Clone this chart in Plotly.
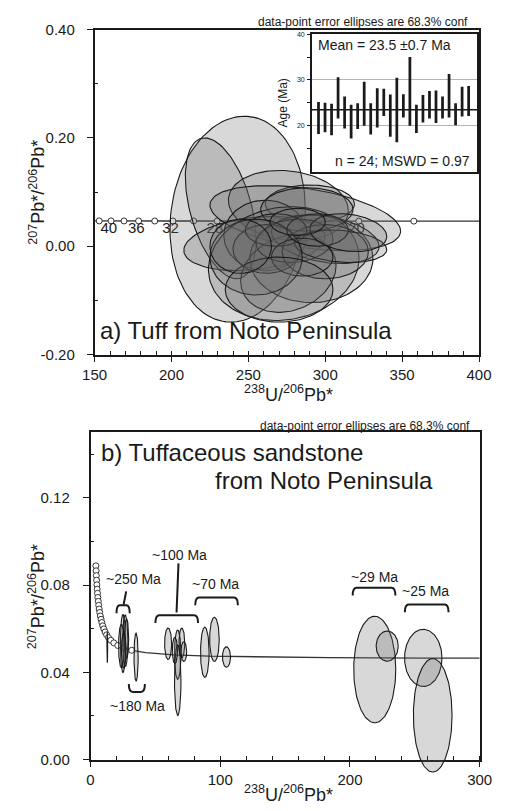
import numpy as np
import plotly.graph_objects as go

W, H = 511, 811
FONT = "Liberation Sans, Arial, sans-serif"
INK = "#1a1a1a"
FILL = "rgba(100,100,100,0.25)"

# ---------------- panel a: Tuff from Noto Peninsula ----------------
conc_a_age = [42, 40, 38, 36, 34, 32, 30, 28, 26, 24, 22, 20, 18]
conc_a_x = [153.0, 160.7, 169.1, 178.6, 189.1, 200.9, 214.4, 229.7, 247.4, 268.1, 292.5, 321.8, 357.6]
conc_a_y = [0.0468, 0.0468, 0.0467, 0.0467, 0.0466, 0.0466, 0.0466, 0.0465, 0.0465, 0.0465, 0.0465, 0.0464, 0.0464]
conc_a_end_x = [150.0, 400.0]
conc_a_end_y = [0.0469, 0.0463]
conc_a_label_ages = [40, 36, 32, 28, 24, 20]

# error ellipses: centre, half-extent in x and y, correlation
ell_a_cx = [243, 232, 276, 290, 287, 254, 261, 273, 291, 276, 300, 288, 262, 280, 300, 268, 310, 285, 255, 295, 270, 245, 315, 282]
ell_a_cy = [0.050, 0.070, 0.075, 0.078, 0.052, 0.005, 0.020, -0.032, -0.023, -0.050, 0.013, 0.068, -0.005, 0.010,
            -0.010, 0.030, 0.000, -0.020, -0.020, 0.030, -0.080, 0.000, 0.025, 0.045]
ell_a_sx = [44, 23, 39, 29, 62, 46, 27, 49, 40, 31, 35, 30, 22, 25, 28, 20, 30, 20, 30, 20, 35, 20, 25, 18]
ell_a_sy = [0.190, 0.130, 0.065, 0.035, 0.060, 0.050, 0.065, 0.105, 0.081, 0.072, 0.045, 0.040, 0.045, 0.040,
            0.050, 0.030, 0.030, 0.035, 0.070, 0.030, 0.060, 0.050, 0.035, 0.025]
ell_a_rho = [0.10, -0.45, -0.15, 0.0, -0.40, 0.25, 0.0, 0.10, 0.0, 0.20, -0.30, 0.0, 0.0, 0.10,
             0.0, 0.0, -0.20, 0.0, 0.0, 0.0, 0.0, 0.0, -0.20, 0.0]

# inset: spot ages (Ma), bar low / high ends
spot_no = list(range(1, 25))
age_lo = [18.2, 18.6, 17.9, 21.6, 19.4, 17.2, 19.3, 20.0, 18.1, 19.6, 22.1, 17.6,
          16.4, 21.8, 20.0, 18.4, 20.7, 21.6, 20.6, 21.6, 21.8, 20.1, 22.0, 22.1]
age_hi = [25.2, 25.0, 24.8, 30.6, 26.4, 24.6, 24.9, 29.6, 24.9, 28.2, 28.1, 26.8,
          30.5, 26.9, 35.0, 24.6, 26.7, 27.6, 27.7, 26.4, 31.3, 24.9, 28.5, 28.7]
mean_age = 23.5

# ---------------- panel b: Tuffaceous sandstone ----------------
conc_b_age = [1400, 1350, 1300, 1250, 1200, 1150, 1100, 1050, 1000, 950, 900, 850, 800,
              750, 700, 650, 600, 550, 500, 450, 400, 350, 300, 250, 200]
conc_b_x = [4.12, 4.29, 4.48, 4.67, 4.89, 5.12, 5.37, 5.65, 5.96, 6.30, 6.67, 7.09, 7.57,
            8.10, 8.72, 9.43, 10.25, 11.23, 12.40, 13.83, 15.62, 17.92, 20.99, 25.29, 31.74]
conc_b_y = [0.0888, 0.0865, 0.0843, 0.0822, 0.0801, 0.0781, 0.0762, 0.0743, 0.0725, 0.0707, 0.0690, 0.0674, 0.0658,
            0.0643, 0.0628, 0.0613, 0.0599, 0.0585, 0.0572, 0.0559, 0.0547, 0.0535, 0.0523, 0.0512, 0.0501]
conc_b_tail_x = [42.5, 64.0, 91.6, 128.4, 183.7, 257.4, 300.0]
conc_b_tail_y = [0.0490, 0.0480, 0.0474, 0.0470, 0.0467, 0.0465, 0.0465]

ell_b_cx = [25.0, 26.8, 23.8, 27.8, 25.6, 35.1, 12.9, 59.8, 67.2, 67.2, 70.4, 71.9, 65.0,
            88.1, 95.5, 104.8, 219.1, 228.7, 256.5, 263.8]
ell_b_cy = [0.0532, 0.0545, 0.0520, 0.0555, 0.0500, 0.0470, 0.0515, 0.0531, 0.0481, 0.0364, 0.0535, 0.0495, 0.0500,
            0.0492, 0.0551, 0.0470, 0.0413, 0.0520, 0.0466, 0.0203]
ell_b_sx = [2.0, 2.0, 2.2, 1.6, 1.8, 1.6, 0.3, 2.7, 2.5, 2.5, 2.2, 2.2, 2.0,
            3.3, 3.7, 3.1, 16.2, 8.5, 14.4, 14.9]
ell_b_sy = [0.0133, 0.0118, 0.0100, 0.0090, 0.0080, 0.0110, 0.0071, 0.0072, 0.0113, 0.0162, 0.0068, 0.0045, 0.0060,
            0.0115, 0.0101, 0.0047, 0.0244, 0.0069, 0.0131, 0.0260]

# age-group brackets and labels (data coordinates of panel b)
br_x0 = [20.0, 50.0, 80.7, 202.1, 242.3]
br_x1 = [30.2, 82.9, 113.6, 235.0, 276.0]
br_y = [0.0707, 0.0662, 0.0743, 0.0788, 0.0711]
stem_x0 = [25.5, 66.3]
stem_y0 = [0.0711, 0.0674]
stem_x1 = [27.5, 67.8]
stem_y1 = [0.0771, 0.0899]
cup_x = [29.5, 41.9]
cup_y = [0.0346, 0.0310]
grp_text = ["~250 Ma", "~100 Ma", "~70 Ma", "~29 Ma", "~25 Ma", "~180 Ma"]
grp_x = [33.2, 68.3, 96.1, 219.0, 258.4, 36.1]
grp_y = [0.0828, 0.0937, 0.0806, 0.0837, 0.0774, 0.0247]


def ellipse(cx, cy, sx, sy, rho, n=120):
    t = np.linspace(0, 2 * np.pi, n)
    x = cx + sx * np.cos(t)
    y = cy + sy * (rho * np.cos(t) + np.sqrt(1 - rho ** 2) * np.sin(t))
    return x, y


def px(v):
    return v / W


def py(v):
    return 1 - v / H


fig = go.Figure()

# ---- panel a ----
fig.add_trace(go.Scatter(x=[conc_a_end_x[0]] + conc_a_x + [conc_a_end_x[1]],
                         y=[conc_a_end_y[0]] + conc_a_y + [conc_a_end_y[1]],
                         mode="lines", line=dict(color="#333", width=1.3),
                         xaxis="x", yaxis="y", hoverinfo="skip"))
fig.add_trace(go.Scatter(x=conc_a_x, y=conc_a_y, mode="markers",
                         marker=dict(symbol="circle", size=6, color="white", line=dict(color="#333", width=1)),
                         xaxis="x", yaxis="y", hoverinfo="skip"))
lab_x = [conc_a_x[conc_a_age.index(a)] - 1.5 for a in conc_a_label_ages]
fig.add_trace(go.Scatter(x=lab_x, y=[0.031] * len(lab_x), mode="text",
                         text=[str(a) for a in conc_a_label_ages],
                         textfont=dict(family=FONT, size=15, color=INK),
                         xaxis="x", yaxis="y", hoverinfo="skip"))
for cx, cy, sx, sy, r in zip(ell_a_cx, ell_a_cy, ell_a_sx, ell_a_sy, ell_a_rho):
    ex, ey = ellipse(cx, cy, sx, sy, r)
    fig.add_trace(go.Scatter(x=ex, y=ey, mode="lines", fill="toself", fillcolor=FILL,
                             line=dict(color=INK, width=1.1), xaxis="x", yaxis="y", hoverinfo="skip"))

# ---- inset ----
fig.add_trace(go.Bar(x=spot_no, y=[h - l for l, h in zip(age_lo, age_hi)], base=age_lo, width=0.42,
                     marker=dict(color=INK, line=dict(width=0)), xaxis="x3", yaxis="y3", hoverinfo="skip"))

# ---- panel b ----
fig.add_trace(go.Scatter(x=conc_b_x + conc_b_tail_x, y=conc_b_y + conc_b_tail_y, mode="lines",
                         line=dict(color="#333", width=1.3), xaxis="x2", yaxis="y2", hoverinfo="skip"))
fig.add_trace(go.Scatter(x=conc_b_x, y=conc_b_y, mode="markers",
                         marker=dict(symbol="circle", size=6, color="white", line=dict(color="#333", width=1)),
                         xaxis="x2", yaxis="y2", hoverinfo="skip"))
for cx, cy, sx, sy in zip(ell_b_cx, ell_b_cy, ell_b_sx, ell_b_sy):
    ex, ey = ellipse(cx, cy, sx, sy, 0.0)
    fig.add_trace(go.Scatter(x=ex, y=ey, mode="lines", fill="toself", fillcolor=FILL,
                             line=dict(color=INK, width=1.1), xaxis="x2", yaxis="y4", hoverinfo="skip"))

# ---------------- layout ----------------
axline = dict(showline=True, linecolor=INK, linewidth=1.6, mirror=True, showgrid=False, zeroline=False,
              ticks="outside", ticklen=6, tickwidth=1.4, tickcolor=INK,
              tickfont=dict(family=FONT, size=15, color=INK))

a_dom_x = [px(86), px(491)]
a_dom_y = [py(353), py(21)]
b_dom_x = [px(81.7), px(491.7)]
b_dom_y = [py(766.7), py(432.3)]
ext = 20 / H
b_ymax = 0.15
b_ext_lo = -b_ymax * ext / (b_dom_y[1] - b_dom_y[0])

fig.update_layout(
    width=W, height=H, margin=dict(l=0, r=0, t=0, b=0), autosize=False,
    paper_bgcolor="white", plot_bgcolor="rgba(0,0,0,0)", showlegend=False,
    font=dict(family=FONT, color=INK),
    xaxis=dict(domain=a_dom_x, range=[150, 400], anchor="y", tick0=150, dtick=50,
               minor=dict(dtick=10, ticks="inside", ticklen=4, tickcolor=INK), ticklabelstandoff=0, **axline),
    yaxis=dict(domain=a_dom_y, range=[-0.2, 0.4], anchor="x", tickvals=[-0.2, 0, 0.2, 0.4],
               ticktext=["-0.20", "0.00", "0.20", "0.40"],
               minor=dict(tickvals=[-0.1, 0.1, 0.3], ticks="inside", ticklen=4, tickcolor=INK),
               ticklabelstandoff=9, **axline),
    xaxis2=dict(domain=b_dom_x, range=[0, 300], anchor="y2", tick0=0, dtick=100,
                minor=dict(dtick=20, ticks="inside", ticklen=4, tickcolor=INK), ticklabelstandoff=0, **axline),
    yaxis2=dict(domain=b_dom_y, range=[0, b_ymax], anchor="x2", tickvals=[0, 0.04, 0.08, 0.12],
                ticktext=["0.00", "0.04", "0.08", "0.12"],
                minor=dict(tickvals=[0.02, 0.06, 0.10, 0.14], ticks="inside", ticklen=4, tickcolor=INK),
                ticklabelstandoff=10, **axline),
    yaxis4=dict(domain=[b_dom_y[0] - ext, b_dom_y[1]], range=[b_ext_lo, b_ymax], anchor="x2", visible=False),
    xaxis3=dict(domain=[px(315), px(489)], range=[0, 25.3], anchor="y3", showline=True, linecolor=INK,
                linewidth=1.6, mirror=True, showticklabels=False, ticks="", showgrid=False, zeroline=False),
    yaxis3=dict(domain=[py(166), py(25.7)], range=[10, 40], anchor="x3", showline=True, linecolor=INK,
                linewidth=1.6, mirror=True, tickvals=[20, 30, 40], ticks="outside", ticklen=3, tickcolor=INK,
                minor=dict(tickvals=[15, 25, 35], ticks="outside", ticklen=3, tickcolor=INK),
                tickfont=dict(family=FONT, size=7, color=INK), showgrid=True, gridcolor="#b4b4b4",
                gridwidth=1, zeroline=False, ticklabelstandoff=1),
)

shapes = [dict(type="line", xref="x3 domain", yref="y3", x0=0, x1=1, y0=mean_age, y1=mean_age,
               line=dict(color=INK, width=1.6))]
for x0, x1, y in zip(br_x0, br_x1, br_y):
    d = 0.0036
    r = min(3.0, (x1 - x0) / 4)
    path = (f"M {x0},{y - d} Q {x0},{y} {x0 + r},{y} L {x1 - r},{y} Q {x1},{y} {x1},{y - d}")
    shapes.append(dict(type="path", xref="x2", yref="y2", path=path, line=dict(color=INK, width=2)))
for a, b, c, d in zip(stem_x0, stem_y0, stem_x1, stem_y1):
    shapes.append(dict(type="line", xref="x2", yref="y2", x0=a, y0=b, x1=c, y1=d, line=dict(color=INK, width=2)))
cx0, cx1 = cup_x
ct, cb = cup_y
r = (cx1 - cx0) / 4
shapes.append(dict(type="path", xref="x2", yref="y2",
                   path=f"M {cx0},{ct} Q {cx0},{cb} {cx0 + r},{cb} L {cx1 - r},{cb} Q {cx1},{cb} {cx1},{ct}",
                   line=dict(color=INK, width=2)))
fig.update_layout(shapes=shapes)

ann = []


def note(text, x, y, size, xanchor="center", angle=0, xref="paper", yref="paper"):
    ann.append(dict(text=text, x=x, y=y, xref=xref, yref=yref, xanchor=xanchor, yanchor="middle",
                    showarrow=False, textangle=angle, font=dict(family=FONT, size=size, color=INK)))


note("data-point error ellipses are 68.3% conf", px(481), py(13), 12, "right")
note("data-point error ellipses are 68.3% conf", px(484), py(426), 12, "right")
note("a) Tuff from Noto Peninsula", px(90), py(328), 24, "left")
note("b) Tuffaceous sandstone", px(91), py(453), 24, "left")
note("from Noto Peninsula", px(211), py(482), 24, "left")
note("<sup>207</sup>Pb*/<sup>206</sup>Pb*", px(25), py(187), 18, "center", -90)
note("<sup>207</sup>Pb*/<sup>206</sup>Pb*", px(25), py(600), 18, "center", -90)
note("<sup>238</sup>U/<sup>206</sup>Pb*", px(290), py(393), 18)
note("<sup>238</sup>U/<sup>206</sup>Pb*", px(290), py(801), 18)
note("Mean = 23.5 \u00b10.7 Ma", px(319), py(37), 14, "left")
note("n = 24; MSWD = 0.97", px(484), py(155), 14, "right")
note("Age (Ma)", px(284), py(96), 12, "center", -90)
for t, x, y in zip(grp_text, grp_x, grp_y):
    note(t, x, y, 14, "center", 0, "x2", "y2")
fig.update_layout(annotations=ann)

fig.write_html("out.html")
